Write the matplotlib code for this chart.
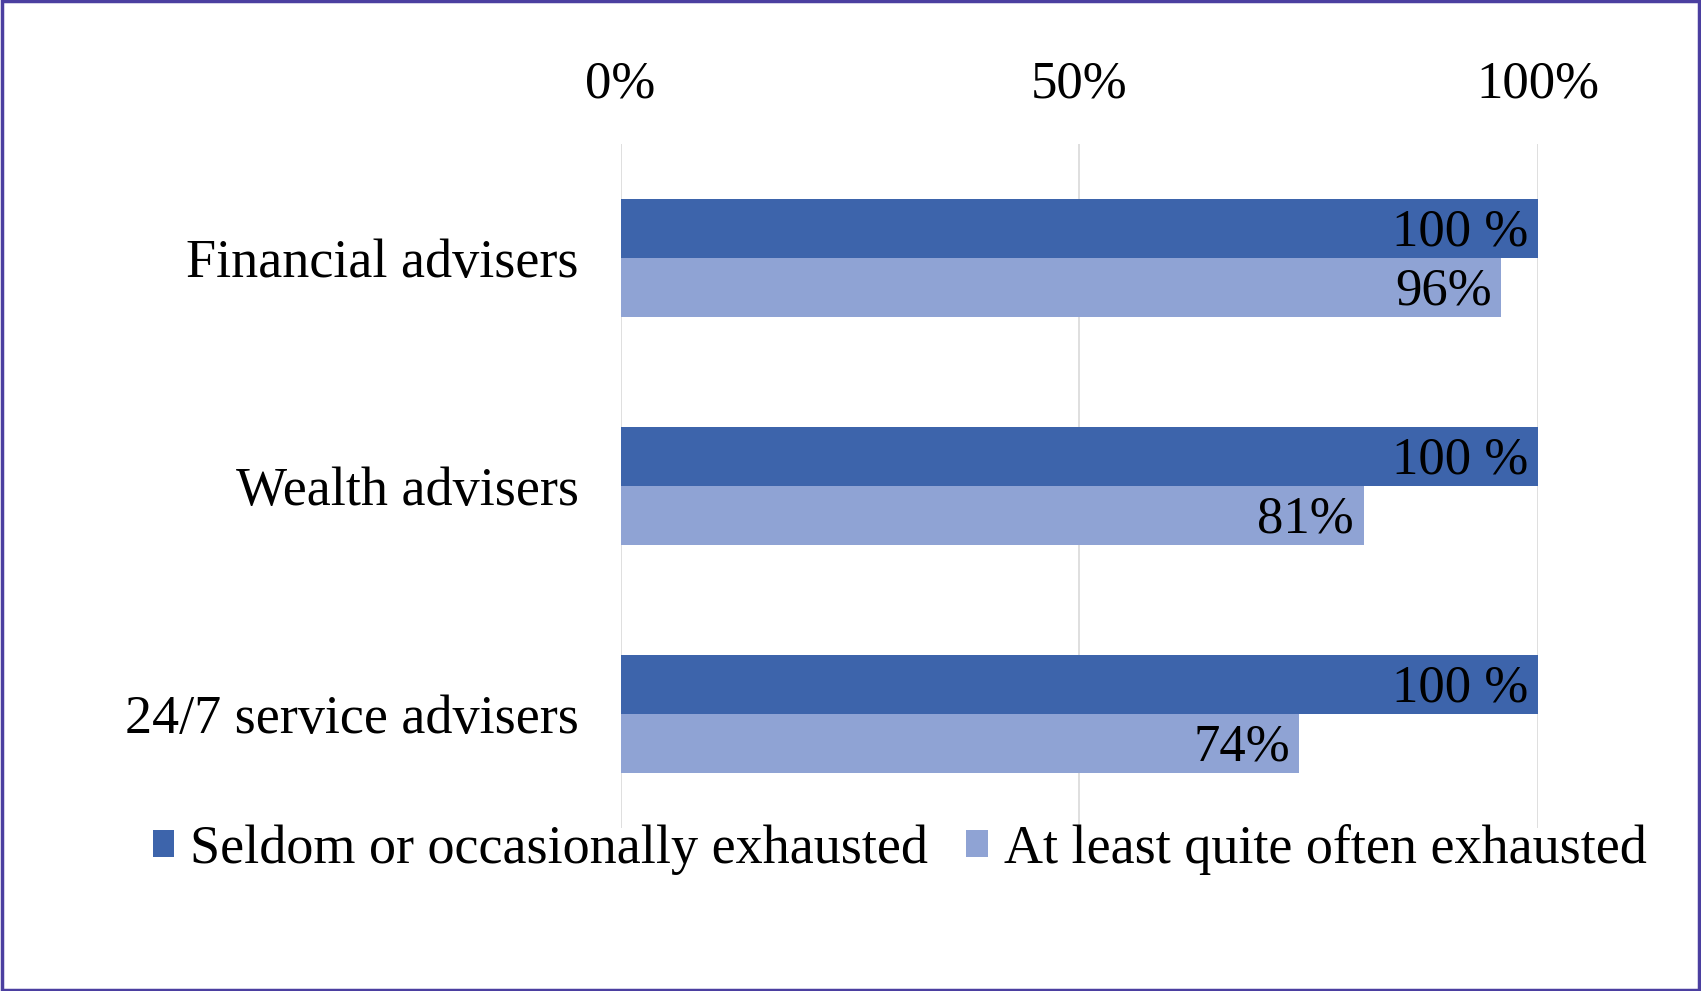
import numpy as np
import matplotlib.pyplot as plt
from matplotlib.patches import Rectangle

# Chart data
categories = ["Financial advisers", "Wealth advisers", "24/7 service advisers"]
seldom = [100, 100, 100]
often = [96, 81, 74]
seldom_labels = ["100 %", "100 %", "100 %"]
often_labels = ["96%", "81%", "74%"]
series_names = ["Seldom or occasionally exhausted", "At least quite often exhausted"]
xticks = [0, 50, 100]
xtick_labels = ["0%", "50%", "100%"]

dark = "#3D64AB"
light = "#8FA3D4"
fs = 38
fs_cat = 39

plt.rcParams['font.family'] = ['Liberation Serif', 'DejaVu Serif']

fig = plt.figure(figsize=(17.01, 9.91), dpi=100)
ax = fig.add_axes([0.3648, 0.1645, 0.5394, 0.690])

y = np.arange(len(categories))
h = 0.26
b1 = ax.barh(y - h / 2, seldom, height=h, color=dark, label=series_names[0], zorder=3)
b2 = ax.barh(y + h / 2, often, height=h, color=light, label=series_names[1], zorder=3)

# Data labels inside the bar ends
for bars, labels in [(b1, seldom_labels), (b2, often_labels)]:
    for bar, lab in zip(bars, labels):
        ax.annotate(lab, (bar.get_width(), bar.get_y() + bar.get_height() / 2),
                    xytext=(-7, -3), textcoords="offset points",
                    ha="right", va="center", fontsize=fs, color="black", zorder=4)

ax.set_xlim(0, 100)
ax.set_ylim(len(categories) - 0.5, -0.5)
ax.set_yticks(y)
ax.set_yticklabels(categories, fontsize=fs_cat)
ax.set_xticks(xticks)
ax.set_xticklabels(xtick_labels, fontsize=fs)
ax.xaxis.tick_top()
ax.tick_params(axis="x", length=0, pad=26)
ax.tick_params(axis="y", length=0, pad=30)
ax.grid(axis="x", color="#d9d9d9", linewidth=1.2, zorder=0)
for s in ax.spines.values():
    s.set_visible(False)

fig.legend(handles=[b1, b2], loc="center", bbox_to_anchor=(0.529, 0.143), ncol=2,
           frameon=False, fontsize=fs_cat, handlelength=0.4, handleheight=0.4,
           handletextpad=0.3, columnspacing=0.7, borderpad=0)

# Outer border
fig.add_artist(Rectangle((0.001, 0.001), 0.998, 0.998, transform=fig.transFigure,
                         fill=False, edgecolor="#4B3FA0", linewidth=2.5))

fig.savefig("out.png", dpi=100)
